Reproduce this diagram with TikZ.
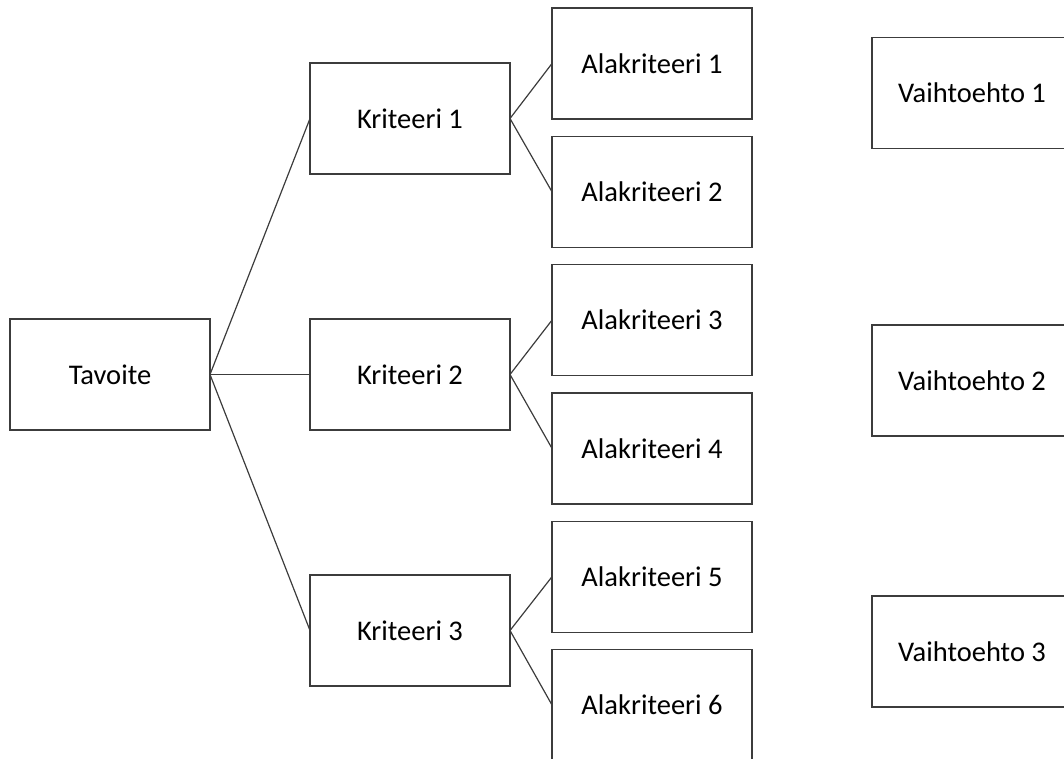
\documentclass[tikz,border=0pt]{standalone}
\usepackage{fontspec}
\setmainfont{Carlito}
\usetikzlibrary{positioning}

\definecolor{boxline}{HTML}{3C3C3C}

\begin{document}
\begin{tikzpicture}[x=1pt,y=-1pt,line width=1.2pt,node distance=100pt,
                    font=\fontsize{28.5}{34}\selectfont]
    \tikzstyle{box}=[draw=boxline,line width=1.4pt,rectangle,outer sep=0pt,
                     minimum width=200pt,minimum height=111pt]
    \useasboundingbox (0,0) rectangle (1064,758);

    \node[box] (T)                                    at (110,374.5) {Tavoite};
    \node[box] (K2) [right=100pt of T]                {Kriteeri 2};
    \node[box] (K1) [above=145pt of K2]               {Kriteeri 1};
    \node[box] (K3) [below=145pt of K2]               {Kriteeri 3};
    \node[box] (A1) [right=42pt of K1,yshift=55pt]    {Alakriteeri 1};
    \node[box] (A2) [below=17.3pt of A1]              {Alakriteeri 2};
    \node[box] (A3) [below=17.3pt of A2]              {Alakriteeri 3};
    \node[box] (A4) [below=17.3pt of A3]              {Alakriteeri 4};
    \node[box] (A5) [below=17.3pt of A4]              {Alakriteeri 5};
    \node[box] (A6) [below=17.3pt of A5]              {Alakriteeri 6};
    \node[box] (V1) [right=120pt of A1,yshift=-29.5pt] {Vaihtoehto 1};
    \node[box] (V2) [below=176.5pt of V1]             {Vaihtoehto 2};
    \node[box] (V3) [below=160pt of V2]               {Vaihtoehto 3};

    \path[draw=boxline]
            (T.east)  edge (K1.west)
                      edge (K2.west)
                      edge (K3.west)
            (K1.east) edge (A1.west)
                      edge (A2.west)
            (K2.east) edge (A3.west)
                      edge (A4.west)
            (K3.east) edge (A5.west)
                      edge (A6.west);
\end{tikzpicture}
\end{document}
